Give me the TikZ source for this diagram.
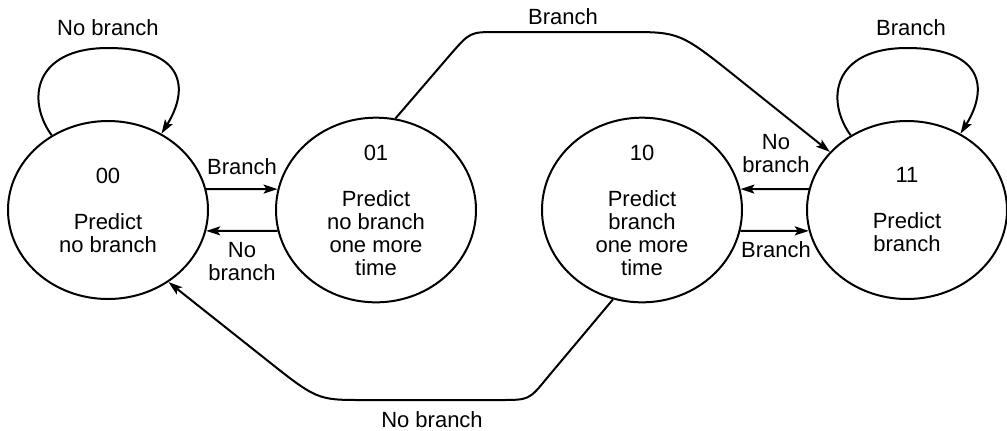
\documentclass[tikz,border=0pt]{standalone}
\usepackage{fontspec}
\setmainfont{Liberation Sans}
\usetikzlibrary{positioning, arrows.meta, shapes.geometric}

\begin{document}
\begin{tikzpicture}[
  x=0.5pt, y=-0.5pt,
  font=\fontsize{11}{11.5}\selectfont,
  pstate/.style={ellipse, draw, line width=1pt, minimum width=100pt,
    minimum height=89pt, inner sep=0pt, align=center},
  lbl/.style={align=center, inner sep=0pt},
  trans/.style={-{Stealth[length=7pt, width=4.5pt, inset=1.5pt]}, line width=1pt},
]
  \useasboundingbox (0,0) rectangle (1007,430);

  % Predictor states
  \node[pstate] (s00) at (108,210) {00\\[11.5pt]Predict\\no branch};
  \node[pstate] (s01) at (376,210) {01\\[11.5pt]Predict\\no branch\\one more\\time};
  \node[pstate] (s10) at (642,210) {10\\[11.5pt]Predict\\branch\\one more\\time};
  \node[pstate] (s11) at (907,210) {11\\[11.5pt]Predict\\branch};

  % Labels
  \node[lbl] (l00) at (108,28) {No branch};
  \node[lbl] (l11) at (911,28) {Branch};
  \node[lbl] (lb1) at (242,167) {Branch};
  \node[lbl] (ln1) at (242,262) {No\\branch};
  \node[lbl] (ln2) at (776,154) {No\\branch};
  \node[lbl] (lb2) at (776,250) {Branch};
  \node[lbl] (ltop) at (563,17) {Branch};
  \node[lbl] (lbot) at (432,420) {No branch};

  % Self loops
  \draw[trans] (s00.127) .. controls (26,100) and (34,48) .. (108,48)
    .. controls (184,48) and (190,88) .. (s00.55);
  \draw[trans] (s11.127) .. controls (825,100) and (833,48) .. (907,48)
    .. controls (983,48) and (989,88) .. (s11.55);

  % Neighbour transitions
  \draw[trans] (s00.12) -- (s01.168);
  \draw[trans] (s01.192) -- (s00.348);
  \draw[trans] (s11.168) -- (s10.12);
  \draw[trans] (s10.348) -- (s11.192);

  % Long transitions
  \draw[trans] (s01.78) -- (450,55) .. controls (470,32) .. (497,32)
    -- (627,32) .. controls (680,32) .. (740,80) -- (s11.143);
  \draw[trans] (s10.252) -- (547,378) .. controls (529,400) .. (500,400)
    -- (363,400) .. controls (317,400) .. (263,357) -- (s00.310);
\end{tikzpicture}
\end{document}
